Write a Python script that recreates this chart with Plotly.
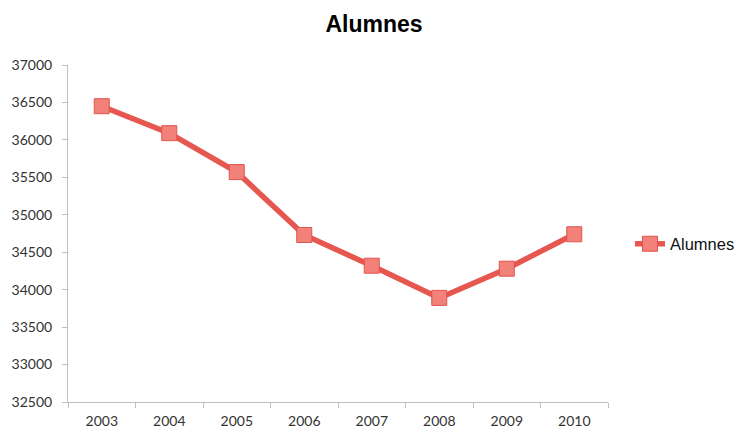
import plotly.graph_objects as go

years = ["2003", "2004", "2005", "2006", "2007", "2008", "2009", "2010"]
alumnes = [36450, 36090, 35570, 34730, 34320, 33890, 34280, 34740]
y_ticks = [32500, 33000, 33500, 34000, 34500, 35000, 35500, 36000, 36500, 37000]

fig = go.Figure()
fig.add_trace(go.Scatter(
    x=years, y=alumnes, name="Alumnes", mode="lines+markers",
    line=dict(color="#E5574F", width=5.5),
    marker=dict(symbol="square", size=15, color="#F2817A",
                line=dict(color="#E0554D", width=1)),
))

# page body has an 8px default margin, so the figure is sized/offset to fit the window
fig.update_layout(
    width=740, height=421,
    margin=dict(l=60, r=140, t=57, b=27),
    paper_bgcolor="white", plot_bgcolor="white",
    title=dict(text="<b>Alumnes</b>", x=0.4946, xanchor="center", y=0.962, yanchor="middle",
               font=dict(family="Liberation Sans, Arial", size=23, color="#000000")),
    showlegend=True,
    legend=dict(xref="container", yref="container", x=0.8405, xanchor="left",
                y=0.4394, yanchor="middle",
                font=dict(family="Liberation Sans, Arial", size=16.5, color="#111111"),
                bgcolor="rgba(0,0,0,0)"),
    font=dict(family="Lato, Liberation Sans", size=14, color="#333333"),
)
fig.update_xaxes(
    type="category", range=[-0.5, 7.5], showline=True, linecolor="#BFBFBF", linewidth=1,
    ticks="outside", ticklen=5, tickcolor="#BFBFBF", tickson="boundaries",
    showgrid=False, zeroline=False, automargin=False, ticklabelstandoff=6,
    tickfont=dict(family="Lato, Liberation Sans", size=14, color="#333333"),
)
fig.update_yaxes(
    range=[32500, 37000], tickvals=y_ticks, ticktext=[str(v) for v in y_ticks],
    showline=True, linecolor="#BFBFBF", linewidth=1,
    ticks="outside", ticklen=5, tickcolor="#BFBFBF",
    showgrid=False, zeroline=False, automargin=False, ticklabelstandoff=7,
    tickfont=dict(family="Lato, Liberation Sans", size=14, color="#333333"),
)

fig.write_html("out.html")
